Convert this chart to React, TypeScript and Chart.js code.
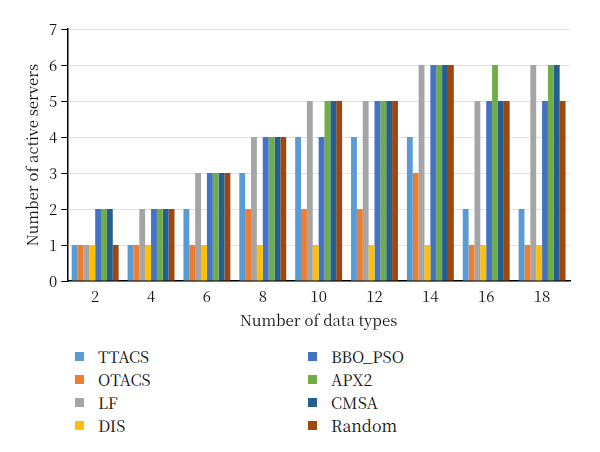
import React, { useEffect, useRef } from "react";
import { Chart, registerables } from "chart.js";

Chart.register(...registerables);

const categories = ["2", "4", "6", "8", "10", "12", "14", "16", "18"];
const seriesNames = ["TTACS", "OTACS", "LF", "DIS", "BBO_PSO", "APX2", "CMSA", "Random"];
const ttacs = [1, 1, 2, 3, 4, 4, 4, 2, 2];
const otacs = [1, 1, 1, 2, 2, 2, 3, 1, 1];
const lf = [1, 2, 3, 4, 5, 5, 6, 5, 6];
const dis = [1, 1, 1, 1, 1, 1, 1, 1, 1];
const bboPso = [2, 2, 3, 4, 4, 5, 6, 5, 5];
const apx2 = [2, 2, 3, 4, 5, 5, 6, 6, 6];
const cmsa = [2, 2, 3, 4, 5, 5, 6, 5, 6];
const random = [1, 2, 3, 4, 5, 5, 6, 5, 5];
const colors = ["#5B9BD5", "#ED7D31", "#A5A5A5", "#FFC000", "#4472C4", "#70AD47", "#255E91", "#9E480E"];

const FONT = "'Noto Serif CJK SC', 'Liberation Serif', serif";

export default function App() {
  const ref = useRef<HTMLCanvasElement | null>(null);
  useEffect(() => {
    document.body.style.margin = "0";
    const values = [ttacs, otacs, lf, dis, bboPso, apx2, cmsa, random];
    const chart = new Chart(ref.current!, {
      type: "bar",
      data: {
        labels: categories,
        datasets: seriesNames.map((n, i) => ({
          label: n,
          data: values[i],
          backgroundColor: colors[i],
          borderWidth: 0,
          categoryPercentage: 0.84,
          barPercentage: 1.0,
        })),
      },
      options: {
        animation: false,
        responsive: false,
        devicePixelRatio: 1,
        layout: { padding: { top: 29, right: 30, left: 19, bottom: 0 } },
        plugins: { legend: { display: false }, tooltip: { enabled: false } },
        scales: {
          x: {
            grid: { display: false, drawTicks: false },
            border: { color: "#000", width: 1.5 },
            ticks: { color: "#111", font: { family: FONT, size: 15 }, padding: 6 },
            title: {
              display: true,
              text: "Number of data types",
              color: "#111",
              font: { family: FONT, size: 15 },
              padding: { top: 0 },
            },
          },
          y: {
            min: 0,
            max: 7,
            grid: { color: "#E3E3E3", tickColor: "#000", tickLength: 6, drawTicks: true },
            border: { color: "#000", width: 1.5 },
            ticks: { stepSize: 1, color: "#111", font: { family: FONT, size: 15 }, padding: 4 },
            title: {
              display: true,
              text: "Number of active servers",
              color: "#111",
              font: { family: FONT, size: 15 },
              padding: { bottom: 4 },
            },
          },
        },
      },
    });
    return () => chart.destroy();
  }, []);

  const rows = [0, 1, 2, 3];
  return (
    <div style={{ position: "relative", width: 600, height: 452, background: "#fff", fontFamily: FONT }}>
      <canvas ref={ref} width={600} height={333} style={{ display: "block" }} />
      {[0, 1].map((col) =>
        rows.map((r) => {
          const idx = col * 4 + r;
          return (
            <div
              key={idx}
              style={{
                position: "absolute",
                left: col === 0 ? 75 : 308,
                top: 356 + r * 23 - 11,
                height: 22,
                display: "flex",
                alignItems: "center",
                fontSize: 16,
                color: "#111",
              }}
            >
              <span style={{ width: 9, height: 9, background: colors[idx], display: "inline-block", marginRight: 14 }} />
              <span>{seriesNames[idx]}</span>
            </div>
          );
        })
      )}
    </div>
  );
}
